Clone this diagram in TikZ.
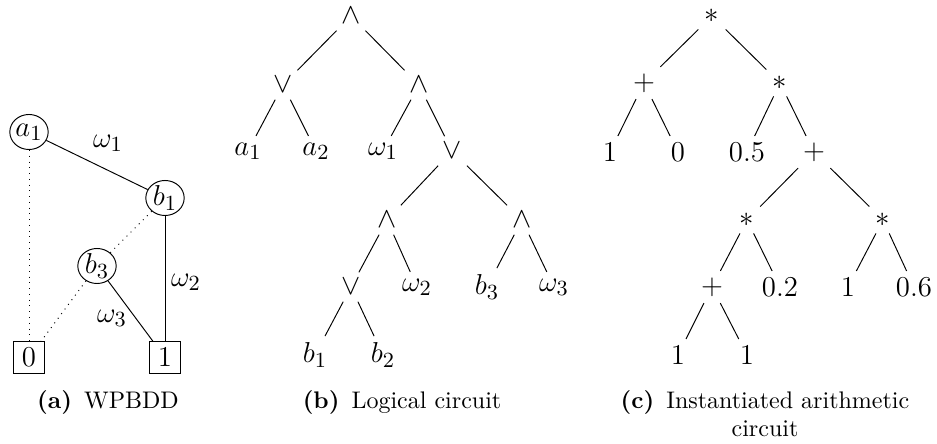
\documentclass[tikz,border=0pt]{standalone}
\usetikzlibrary{shapes.geometric}
\begin{document}
\begin{tikzpicture}[x=0.4167pt,y=-0.4167pt,
  tnode/.style={inner sep=2.6pt,font=\fontsize{13}{15.6}\selectfont},
  bddc/.style={draw,ellipse,inner sep=0pt,minimum width=16pt,minimum height=14.6pt,font=\fontsize{13}{15.6}\selectfont},
  bddt/.style={draw,rectangle,inner sep=0pt,minimum width=12.6pt,minimum height=13pt,font=\fontsize{13}{15.6}\selectfont},
  lbl/.style={inner sep=0pt,font=\fontsize{13}{15.6}\selectfont},
  edge/.style={draw,line width=0.4pt},
  zero/.style={draw,dotted,line width=0.4pt},
  captxt/.style={inner sep=0pt,font=\fontsize{10}{11.5}\selectfont,align=center}]
\useasboundingbox (0,0) rectangle (937,444);

% ---------- (a) WPBDD ----------
\node[bddc] (A1) at (29,132) {$a_1$};
\node[bddc] (B1) at (165,198) {$b_1$};
\node[bddc] (B3) at (97,266) {$b_3$};
\node[bddt] (T0) at (29,357.5) {$0$};
\node[bddt] (T1) at (165,357.5) {$1$};
\draw[edge] (A1) -- (B1);
\draw[zero] (A1) -- (T0);
\draw[zero] (B1) -- (B3);
\draw[edge] (B1) -- (T1);
\draw[edge] (B3) -- (T1);
\draw[zero] (B3) -- (T0);
\node[lbl] (LW1) at (108,143) {$\omega_1$};
\node[lbl] (LW2) at (186,282) {$\omega_2$};
\node[lbl] (LW3) at (112,318) {$\omega_3$};
\node[captxt] (CA) at (108,402) {\textbf{(a)}\hspace{0.5em}WPBDD};

% ---------- (b) Logical circuit ----------
\node[tnode] (bR) at (351,16) {$\wedge$};
\node[tnode] (bL1) at (283,85) {$\vee$};
\node[tnode] (bR1) at (419,85) {$\wedge$};
\node[tnode] (bA1) at (248,151) {$a_1$};
\node[tnode] (bA2) at (316,151) {$a_2$};
\node[tnode] (bW1) at (383,151) {$\omega_1$};
\node[tnode] (bO2) at (452,151) {$\vee$};
\node[tnode] (bN3) at (387,220) {$\wedge$};
\node[tnode] (bN4) at (522,220) {$\wedge$};
\node[tnode] (bO5) at (351,287) {$\vee$};
\node[tnode] (bW2) at (417,287) {$\omega_2$};
\node[tnode] (bB3) at (487,287) {$b_3$};
\node[tnode] (bW3) at (554,287) {$\omega_3$};
\node[tnode] (bB1) at (315,355) {$b_1$};
\node[tnode] (bB2) at (383,355) {$b_2$};
\draw[edge] (bR) -- (bL1);
\draw[edge] (bR) -- (bR1);
\draw[edge] (bL1) -- (bA1);
\draw[edge] (bL1) -- (bA2);
\draw[edge] (bR1) -- (bW1);
\draw[edge] (bR1) -- (bO2);
\draw[edge] (bO2) -- (bN3);
\draw[edge] (bO2) -- (bN4);
\draw[edge] (bN3) -- (bO5);
\draw[edge] (bN3) -- (bW2);
\draw[edge] (bN4) -- (bB3);
\draw[edge] (bN4) -- (bW3);
\draw[edge] (bO5) -- (bB1);
\draw[edge] (bO5) -- (bB2);
\node[captxt] (CB) at (402,402) {\textbf{(b)}\hspace{0.5em}Logical circuit};

% ---------- (c) Instantiated arithmetic circuit ----------
\node[tnode] (cR) at (712,16) {$*$};
\node[tnode] (cP1) at (644,83) {$+$};
\node[tnode] (cS1) at (780,83) {$*$};
\node[tnode] (cL1) at (610,152) {$1$};
\node[tnode] (cL0) at (678,152) {$0$};
\node[tnode] (cL05) at (747,152) {$0.5$};
\node[tnode] (cP2) at (814,152) {$+$};
\node[tnode] (cS2) at (747,220) {$*$};
\node[tnode] (cS3) at (883,220) {$*$};
\node[tnode] (cP3) at (712,287) {$+$};
\node[tnode] (cL02) at (780,287) {$0.2$};
\node[tnode] (cL1b) at (848,287) {$1$};
\node[tnode] (cL06) at (914,287) {$0.6$};
\node[tnode] (cL1c) at (678,355) {$1$};
\node[tnode] (cL1d) at (747,355) {$1$};
\draw[edge] (cR) -- (cP1);
\draw[edge] (cR) -- (cS1);
\draw[edge] (cP1) -- (cL1);
\draw[edge] (cP1) -- (cL0);
\draw[edge] (cS1) -- (cL05);
\draw[edge] (cS1) -- (cP2);
\draw[edge] (cP2) -- (cS2);
\draw[edge] (cP2) -- (cS3);
\draw[edge] (cS2) -- (cP3);
\draw[edge] (cS2) -- (cL02);
\draw[edge] (cS3) -- (cL1b);
\draw[edge] (cS3) -- (cL06);
\draw[edge] (cP3) -- (cL1c);
\draw[edge] (cP3) -- (cL1d);
\node[captxt,anchor=north] (CC) at (765,390) {\textbf{(c)}\hspace{0.5em}Instantiated arithmetic\\circuit};
\end{tikzpicture}
\end{document}
